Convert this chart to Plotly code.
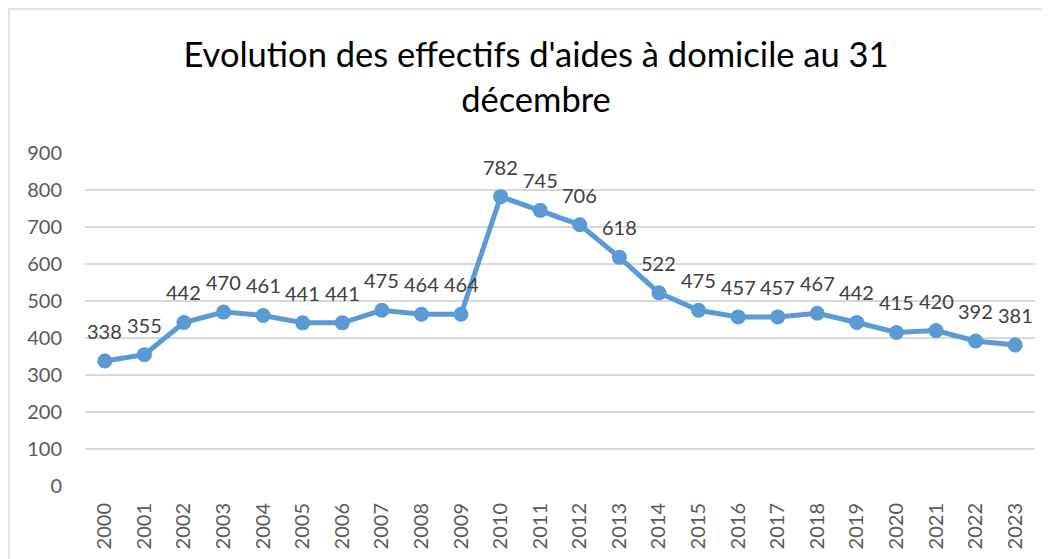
import plotly.graph_objects as go

# Effectifs d'aides à domicile au 31 décembre
annees = [str(a) for a in range(2000, 2024)]
effectifs = [338, 355, 442, 470, 461, 441, 441, 475, 464, 464,
             782, 745, 706, 618, 522, 475, 457, 457, 467, 442,
             415, 420, 392, 381]
ticks_y = [0, 100, 200, 300, 400, 500, 600, 700, 800, 900]

bleu = "#5B9BD5"
police = "Lato"

fig = go.Figure()
fig.add_trace(go.Scatter(
    x=annees, y=effectifs, mode="lines+markers",
    line={"color": bleu, "width": 5},
    marker={"color": bleu, "size": 15},
    hoverinfo="x+y", showlegend=False,
))

# étiquettes de données au-dessus des points (x = index de catégorie)
for i, v in enumerate(effectifs):
    fig.add_annotation(x=i, y=v, text=str(v), showarrow=False,
                       yanchor="middle", yshift=30,
                       font={"family": police, "size": 20, "color": "#404040"})

# la page ajoute une marge de 8 px : tout est décalé en conséquence
# cadre du graphique (style Excel)
fig.add_shape(type="rect", xref="paper", yref="paper",
              x0=(1 - 77) / 950, x1=1.1, y0=-0.5, y1=(559 - 1 - 81) / 333,
              line={"color": "#D9D9D9", "width": 1.5}, layer="below")

fig.update_layout(
    width=1050, height=559,
    margin={"l": 77, "r": 23, "t": 145, "b": 81, "autoexpand": False},
    paper_bgcolor="white", plot_bgcolor="white",
    title={"text": "Evolution des effectifs d'aides à domicile au 31<br>décembre",
           "x": 528 / 1050, "xref": "container", "xanchor": "center",
           "y": 1 - 59 / 559, "yref": "container", "yanchor": "top",
           "font": {"family": police, "size": 34.5, "color": "#000000"}},
    xaxis={"type": "category", "range": [-0.5, 23.5], "tickangle": -90,
           "showgrid": False, "showline": False, "ticks": "",
           "automargin": False, "ticklabelstandoff": 12,
           "tickfont": {"family": police, "size": 20, "color": "#595959"}},
    yaxis={"range": [0, 900], "tickvals": ticks_y, "showgrid": True,
           "gridcolor": "#D9D9D9", "gridwidth": 1.5, "zeroline": False,
           "ticks": "", "ticklabelstandoff": 22, "automargin": False,
           "tickfont": {"family": police, "size": 20, "color": "#595959"}},
)

fig.write_html("out.html")
